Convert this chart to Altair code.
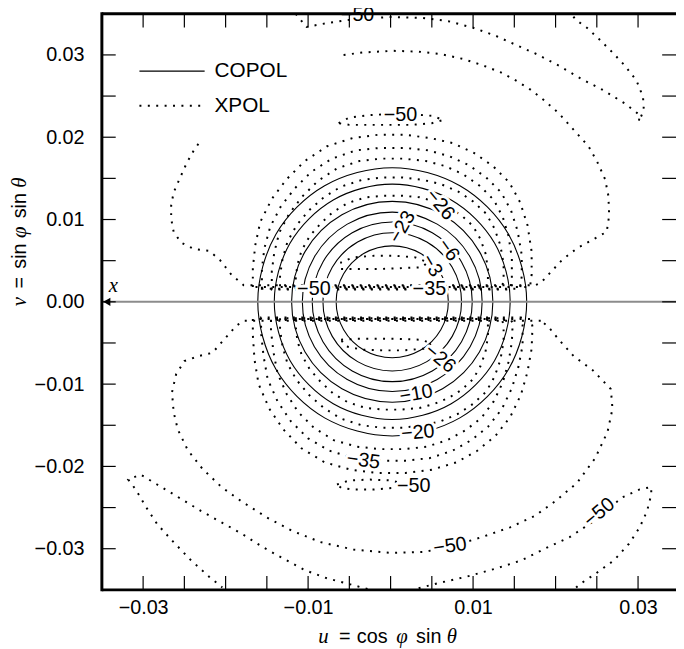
import altair as alt
import pandas as pd

# ---------------- axis values ----------------
x_label_values = [-0.03, -0.01, 0.01, 0.03]
y_label_values = [-0.03, -0.02, -0.01, 0.0, 0.01, 0.02, 0.03]
tick_values = [-0.03, -0.025, -0.02, -0.015, -0.01, -0.005, 0.0,
               0.005, 0.01, 0.015, 0.02, 0.025, 0.03]

# ---------------- COPOL contours (solid, closed) ----------------
copol_1 = [(0.0165, 0), (0.0143, 0.0082), (0.0084, 0.0141), (0.0002, 0.0163), (-0.0080, 0.0141), (-0.0139, 0.0082),
           (-0.0161, 0), (-0.0139, -0.0082), (-0.0080, -0.0141), (0.0002, -0.0163), (0.0084, -0.0141), (0.0143, -0.0082)]
copol_2 = [(0.0145, 0), (0.0126, 0.00715), (0.00735, 0.01238), (0.0002, 0.0143), (-0.00695, 0.01238), (-0.01218, 0.00715),
           (-0.0141, 0), (-0.01218, -0.00715), (-0.00695, -0.01238), (0.0002, -0.0143), (0.00735, -0.01238), (0.0126, -0.00715)]
copol_3 = [(0.0124, 0), (0.01077, 0.0061), (0.0063, 0.01057), (0.0002, 0.0122), (-0.0059, 0.01057), (-0.01037, 0.0061),
           (-0.0120, 0), (-0.01037, -0.0061), (-0.0059, -0.01057), (0.0002, -0.0122), (0.0063, -0.01057), (0.01077, -0.0061)]
copol_4 = [(0.0111, 0), (0.00964, 0.00545), (0.00565, 0.00944), (0.0002, 0.0109), (-0.00525, 0.00944), (-0.00924, 0.00545),
           (-0.0107, 0), (-0.00924, -0.00545), (-0.00525, -0.00944), (0.0002, -0.0109), (0.00565, -0.00944), (0.00964, -0.00545)]
copol_5 = [(0.0099, 0), (0.0086, 0.00485), (0.00505, 0.0084), (0.0002, 0.0097), (-0.00465, 0.0084), (-0.0082, 0.00485),
           (-0.0095, 0), (-0.0082, -0.00485), (-0.00465, -0.0084), (0.0002, -0.0097), (0.00505, -0.0084), (0.0086, -0.00485)]
copol_6 = [(0.0086, 0), (0.00747, 0.0042), (0.0044, 0.00727), (0.0002, 0.0084), (-0.0040, 0.00727), (-0.00707, 0.0042),
           (-0.0082, 0), (-0.00707, -0.0042), (-0.0040, -0.00727), (0.0002, -0.0084), (0.0044, -0.00727), (0.00747, -0.0042)]
copol_7 = [(0.0070, 0), (0.00609, 0.0034), (0.0036, 0.00589), (0.0002, 0.0068), (-0.0032, 0.00589), (-0.00569, 0.0034),
           (-0.0066, 0), (-0.00569, -0.0034), (-0.0032, -0.00589), (0.0002, -0.0068), (0.0036, -0.00589), (0.00609, -0.0034)]

# ---------------- XPOL contours (dotted) ----------------
# open curves
xpol_top_lobe = [(-0.0115, 0.0350), (-0.0102, 0.0334), (-0.0086, 0.0337), (-0.0075, 0.0339), (-0.0040, 0.0344),
                 (0.0000, 0.0346), (0.0039, 0.0345), (0.0070, 0.0341), (0.0100, 0.0333), (0.0128, 0.0323),
                 (0.0150, 0.0313), (0.0177, 0.0301), (0.0204, 0.0287), (0.0231, 0.0271), (0.0258, 0.0257),
                 (0.0284, 0.0241), (0.0302, 0.0227), (0.0301, 0.0219), (0.0307, 0.0233), (0.0306, 0.0249),
                 (0.0298, 0.0269), (0.0284, 0.0287), (0.0269, 0.0303), (0.0253, 0.0319), (0.0238, 0.0333),
                 (0.0224, 0.0343), (0.0220, 0.0349)]
xpol_upper_big = [(-0.0057, 0.0300), (-0.0033, 0.0303), (0.0003, 0.0305), (0.0034, 0.0304), (0.0061, 0.0301),
                  (0.0088, 0.0295), (0.0110, 0.0288), (0.0133, 0.0279), (0.0150, 0.0270), (0.0168, 0.0259),
                  (0.0186, 0.0245), (0.0204, 0.0229), (0.0222, 0.0209), (0.0240, 0.0189), (0.0251, 0.0169),
                  (0.0260, 0.0149), (0.0264, 0.0129), (0.0265, 0.0105), (0.0262, 0.0085), (0.0244, 0.0075),
                  (0.0226, 0.0065), (0.0208, 0.0051), (0.0195, 0.0037), (0.0182, 0.0023), (0.0175, 0.0020),
                  (0.0100, 0.0020), (0.0000, 0.0020), (-0.0100, 0.0020), (-0.0178, 0.0020), (-0.0193, 0.0033),
                  (-0.0207, 0.0051), (-0.0220, 0.0062), (-0.0238, 0.0064), (-0.0254, 0.0072), (-0.0263, 0.0085),
                  (-0.0266, 0.0101), (-0.0266, 0.0117), (-0.0263, 0.0133), (-0.0256, 0.0149), (-0.0247, 0.0169),
                  (-0.0238, 0.0185), (-0.0230, 0.0196)]
xpol_lower_left_lobe = [(-0.0028, -0.0349), (-0.0050, -0.0343), (-0.0077, -0.0336), (-0.0104, -0.0326),
                        (-0.0130, -0.0312), (-0.0155, -0.0298), (-0.0180, -0.0282), (-0.0205, -0.0268),
                        (-0.0230, -0.0254), (-0.0258, -0.0237), (-0.0283, -0.0222), (-0.0303, -0.0210),
                        (-0.0318, -0.0216), (-0.0309, -0.0228), (-0.0296, -0.0250), (-0.0283, -0.0270),
                        (-0.0265, -0.0290), (-0.0242, -0.0314), (-0.0220, -0.0334), (-0.0204, -0.0347)]
xpol_lower_right_lobe = [(0.0034, -0.0348), (0.0057, -0.0342), (0.0092, -0.0334), (0.0128, -0.0324),
                         (0.0159, -0.0314), (0.0191, -0.0298), (0.0217, -0.0286), (0.0253, -0.0262),
                         (0.0280, -0.0238), (0.0302, -0.0228), (0.0316, -0.0225), (0.0316, -0.0234),
                         (0.0311, -0.0254), (0.0302, -0.0274), (0.0289, -0.0294), (0.0271, -0.0314),
                         (0.0249, -0.0330), (0.0231, -0.0342), (0.0224, -0.0348)]

# closed curves
xpol_lower_big = [(0.0182, -0.0023), (0.0100, -0.0023), (0.0000, -0.0023), (-0.0100, -0.0023), (-0.0178, -0.0023),
                  (-0.0187, -0.0029), (-0.0202, -0.0046), (-0.0216, -0.0062), (-0.0233, -0.0066), (-0.0250, -0.0072),
                  (-0.0260, -0.0088), (-0.0265, -0.0110), (-0.0263, -0.0134), (-0.0258, -0.0155), (-0.0246, -0.0180),
                  (-0.0228, -0.0203), (-0.0205, -0.0225), (-0.0180, -0.0243), (-0.0150, -0.0262), (-0.0120, -0.0278),
                  (-0.0085, -0.0292), (-0.0045, -0.0301), (0.0000, -0.0305), (0.0040, -0.0304), (0.0075, -0.0297),
                  (0.0110, -0.0286), (0.0145, -0.0274), (0.0175, -0.0260), (0.0200, -0.0242), (0.0226, -0.0220),
                  (0.0248, -0.0190), (0.0263, -0.0158), (0.0269, -0.0130), (0.0267, -0.0106), (0.0245, -0.0083),
                  (0.0222, -0.0066), (0.0204, -0.0046), (0.0191, -0.0030)]
xpol_upper_small = [(-0.0063, 0.0217), (-0.0050, 0.0224), (-0.0025, 0.0227), (0.0000, 0.0228), (0.0025, 0.0228),
                    (0.0050, 0.0226), (0.0064, 0.0221), (0.0050, 0.0217), (0.0025, 0.0215), (0.0000, 0.0215),
                    (-0.0025, 0.0215), (-0.0050, 0.0215)]
xpol_lower_small = [(-0.0065, -0.0222), (-0.0050, -0.0217), (-0.0025, -0.0216), (0.0000, -0.0217), (0.0012, -0.0220),
                    (0.0005, -0.0226), (-0.0020, -0.0228), (-0.0045, -0.0228), (-0.0060, -0.0226)]
xpol_upper_inner = [(-0.0060, 0.0040), (-0.0035, 0.0040), (-0.0010, 0.0040), (0.0015, 0.0041), (0.0038, 0.0042),
                    (0.0045, 0.0048), (0.0030, 0.0054), (0.0005, 0.0056), (-0.0020, 0.0056), (-0.0045, 0.0054),
                    (-0.0060, 0.0048)]
xpol_lower_inner = [(-0.0060, -0.0046), (-0.0040, -0.0045), (-0.0015, -0.0045), (0.0010, -0.0045), (0.0035, -0.0046),
                    (0.0050, -0.0050), (0.0040, -0.0057), (0.0015, -0.0059), (-0.0010, -0.0059), (-0.0035, -0.0058),
                    (-0.0055, -0.0054)]
xpol_u1 = [(-0.0167, 0.0018), (-0.0167, 0.0041), (-0.0164, 0.0069), (-0.0158, 0.0097), (-0.0144, 0.0125),
           (-0.0126, 0.0149), (-0.0104, 0.0171), (-0.0077, 0.0189), (-0.0046, 0.0199), (-0.0015, 0.0203),
           (0.0017, 0.0203), (0.0048, 0.0199), (0.0075, 0.0193), (0.0101, 0.0181), (0.0124, 0.0165),
           (0.0144, 0.0145), (0.0157, 0.0121), (0.0166, 0.0093), (0.0171, 0.0061), (0.0171, 0.0033), (0.0169, 0.0018)]
xpol_u2 = [(-0.0156, 0.0016), (-0.0156, 0.0040), (-0.0153, 0.0065), (-0.0146, 0.0091), (-0.0133, 0.0116),
           (-0.0116, 0.0138), (-0.0096, 0.0158), (-0.0071, 0.0174), (-0.0042, 0.0184), (-0.0013, 0.0187),
           (0.0017, 0.0187), (0.0046, 0.0184), (0.0071, 0.0177), (0.0095, 0.0166), (0.0116, 0.0151),
           (0.0134, 0.0133), (0.0146, 0.0111), (0.0154, 0.0086), (0.0159, 0.0057), (0.0159, 0.0031), (0.0157, 0.0016)]
xpol_u3 = [(-0.0144, 0.0015), (-0.0144, 0.0037), (-0.0141, 0.0060), (-0.0135, 0.0084), (-0.0123, 0.0107),
           (-0.0107, 0.0128), (-0.0088, 0.0147), (-0.0065, 0.0162), (-0.0038, 0.0171), (-0.0011, 0.0174),
           (0.0016, 0.0174), (0.0043, 0.0171), (0.0066, 0.0165), (0.0088, 0.0155), (0.0108, 0.0141),
           (0.0125, 0.0124), (0.0136, 0.0103), (0.0143, 0.0080), (0.0147, 0.0053), (0.0147, 0.0029), (0.0145, 0.0015)]
xpol_u4 = [(-0.0134, 0.0019), (-0.0134, 0.0032), (-0.0131, 0.0052), (-0.0125, 0.0073), (-0.0114, 0.0093),
           (-0.0099, 0.0111), (-0.0081, 0.0127), (-0.0060, 0.0140), (-0.0035, 0.0148), (-0.0010, 0.0151),
           (0.0015, 0.0151), (0.0040, 0.0148), (0.0061, 0.0143), (0.0082, 0.0134), (0.0100, 0.0122),
           (0.0116, 0.0107), (0.0126, 0.0089), (0.0133, 0.0069), (0.0137, 0.0046), (0.0137, 0.0025), (0.0135, 0.0019)]
xpol_u5 = [(-0.0115, 0.0017), (-0.0115, 0.0028), (-0.0113, 0.0045), (-0.0108, 0.0062), (-0.0098, 0.0080),
           (-0.0085, 0.0095), (-0.0070, 0.0109), (-0.0052, 0.0120), (-0.0030, 0.0127), (-0.0008, 0.0129),
           (0.0013, 0.0129), (0.0035, 0.0127), (0.0053, 0.0122), (0.0070, 0.0115), (0.0086, 0.0105),
           (0.0100, 0.0092), (0.0109, 0.0076), (0.0115, 0.0059), (0.0118, 0.0040), (0.0118, 0.0022), (0.0116, 0.0017)]
xpol_l1 = [(-0.0167, -0.0021), (-0.0167, -0.0040), (-0.0165, -0.0070), (-0.0160, -0.0100), (-0.0147, -0.0130),
           (-0.0130, -0.0155), (-0.0108, -0.0178), (-0.0080, -0.0195), (-0.0048, -0.0204), (-0.0015, -0.0208),
           (0.0018, -0.0208), (0.0050, -0.0204), (0.0080, -0.0195), (0.0105, -0.0181), (0.0127, -0.0163),
           (0.0145, -0.0140), (0.0158, -0.0113), (0.0166, -0.0085), (0.0171, -0.0057), (0.0172, -0.0030), (0.0170, -0.0021)]
xpol_l2 = [(-0.0157, -0.0019), (-0.0157, -0.0038), (-0.0154, -0.0066), (-0.0149, -0.0094), (-0.0137, -0.0121),
           (-0.0121, -0.0145), (-0.0100, -0.0166), (-0.0074, -0.0181), (-0.0044, -0.0190), (-0.0013, -0.0193),
           (0.0018, -0.0193), (0.0047, -0.0190), (0.0075, -0.0181), (0.0098, -0.0168), (0.0118, -0.0152),
           (0.0135, -0.0130), (0.0147, -0.0105), (0.0155, -0.0079), (0.0160, -0.0053), (0.0160, -0.0028), (0.0158, -0.0019)]
xpol_l3 = [(-0.0145, -0.0022), (-0.0145, -0.0035), (-0.0142, -0.0061), (-0.0137, -0.0087), (-0.0126, -0.0112),
           (-0.0112, -0.0134), (-0.0093, -0.0153), (-0.0069, -0.0168), (-0.0041, -0.0176), (-0.0012, -0.0179),
           (0.0017, -0.0179), (0.0044, -0.0176), (0.0069, -0.0168), (0.0091, -0.0156), (0.0110, -0.0141),
           (0.0125, -0.0121), (0.0136, -0.0098), (0.0143, -0.0073), (0.0147, -0.0049), (0.0148, -0.0026), (0.0146, -0.0022)]
xpol_l4 = [(-0.0134, -0.0020), (-0.0134, -0.0034), (-0.0131, -0.0054), (-0.0125, -0.0075), (-0.0114, -0.0095),
           (-0.0099, -0.0113), (-0.0081, -0.0129), (-0.0060, -0.0142), (-0.0035, -0.0150), (-0.0010, -0.0153),
           (0.0015, -0.0153), (0.0040, -0.0150), (0.0061, -0.0145), (0.0082, -0.0136), (0.0100, -0.0124),
           (0.0116, -0.0109), (0.0126, -0.0091), (0.0133, -0.0071), (0.0137, -0.0048), (0.0137, -0.0030), (0.0135, -0.0020)]
xpol_l5 = [(-0.0115, -0.0021), (-0.0115, -0.0030), (-0.0113, -0.0047), (-0.0108, -0.0064), (-0.0098, -0.0082),
           (-0.0085, -0.0097), (-0.0070, -0.0111), (-0.0052, -0.0122), (-0.0030, -0.0129), (-0.0008, -0.0131),
           (0.0013, -0.0131), (0.0035, -0.0129), (0.0053, -0.0124), (0.0070, -0.0117), (0.0086, -0.0107),
           (0.0100, -0.0094), (0.0109, -0.0078), (0.0115, -0.0061), (0.0118, -0.0042), (0.0118, -0.0027), (0.0116, -0.0021)]

# ---------------- contour labels ----------------
label_text = ["−26", "−23", "−6", "−3", "−35", "−50", "−26", "−10", "−20", "−35", "−50", "−50", "−50", "−50", "−50"]
label_u = [0.0060, 0.0014, 0.0070, 0.0050, 0.0047, -0.0093, 0.0060, 0.0031, 0.0033, -0.0033, 0.0028, 0.0072, 0.0253, 0.0012, -0.0040]
label_v = [0.0118, 0.0091, 0.0063, 0.0044, 0.0016, 0.0016, -0.0069, -0.0112, -0.0159, -0.0193, -0.0224, -0.0297, -0.0256, 0.0227, 0.0349]
label_angle = [50, 300, 55, 60, 0, 0, 40, 350, 355, 8, 0, 352, 320, 0, 0]


def to_frame(contours):
    rows = []
    for name, pts in contours.items():
        for i, (u, v) in enumerate(pts):
            rows.append({"cid": name, "i": i, "u": u, "v": v})
    return pd.DataFrame(rows)


copol_df = to_frame({"c1": copol_1, "c2": copol_2, "c3": copol_3, "c4": copol_4,
                     "c5": copol_5, "c6": copol_6, "c7": copol_7})
xpol_open_df = to_frame({"top": xpol_top_lobe, "ubig": xpol_upper_big,
                         "ll": xpol_lower_left_lobe, "lr": xpol_lower_right_lobe})
xpol_closed_df = to_frame({"lbig": xpol_lower_big, "us": xpol_upper_small, "ls": xpol_lower_small,
                           "ui": xpol_upper_inner, "li": xpol_lower_inner,
                           "u1": xpol_u1, "u2": xpol_u2, "u3": xpol_u3, "u4": xpol_u4, "u5": xpol_u5,
                           "l1": xpol_l1, "l2": xpol_l2, "l3": xpol_l3, "l4": xpol_l4, "l5": xpol_l5})
labels_df = pd.DataFrame({"t": label_text, "u": label_u, "v": label_v, "a": label_angle})
ticks_df = pd.DataFrame({"t": tick_values})
one = pd.DataFrame({"k": [0]})

W, H = 581, 583
SANS = "Liberation Sans"
SERIF = "Liberation Serif"

xs = alt.Scale(domain=[-0.035, 0.0346], nice=False, zero=False)
ys = alt.Scale(domain=[-0.035, 0.035], nice=False, zero=False)
xaxis = alt.Axis(values=x_label_values, format=".2f", ticks=False, domain=False, grid=False,
                 labelFont=SANS, labelFontSize=20, labelColor="black", labelPadding=8,
                 labelFlush=False, title=None)
yaxis = alt.Axis(values=y_label_values, format=".2f", ticks=False, domain=False, grid=False,
                 labelFont=SANS, labelFontSize=20, labelColor="black", labelPadding=18,
                 labelFlush=False, title=None)
X = alt.X("u:Q", scale=xs, axis=xaxis)
Y = alt.Y("v:Q", scale=ys, axis=yaxis)

DOT = [2, 6.5]

copol = alt.Chart(copol_df).mark_line(interpolate="cardinal-closed", color="black",
                                      strokeWidth=1.1, clip=True).encode(
    x=X, y=Y, detail="cid:N", order="i:Q")
xpol_closed = alt.Chart(xpol_closed_df).mark_line(interpolate="linear-closed", color="black",
                                                  strokeWidth=2, strokeDash=DOT, clip=True).encode(
    x=X, y=Y, detail="cid:N", order="i:Q")
xpol_open = alt.Chart(xpol_open_df).mark_line(interpolate="linear", color="black",
                                              strokeWidth=2, strokeDash=DOT, clip=True).encode(
    x=X, y=Y, detail="cid:N", order="i:Q")

halo = alt.Chart(labels_df).mark_text(font=SANS, fontSize=20, fill="white", stroke="white",
                                      strokeWidth=6, strokeJoin="round",
                                      align="center", baseline="middle").encode(
    x=X, y=Y, text="t:N", angle=alt.Angle("a:Q", scale=None))
labels = alt.Chart(labels_df).mark_text(font=SANS, fontSize=20, color="black",
                                        align="center", baseline="middle").encode(
    x=X, y=Y, text="t:N", angle=alt.Angle("a:Q", scale=None))

# horizontal x-direction line with arrow
axis_line = alt.Chart(one).mark_rule(color="#8c8c8c", strokeWidth=2).encode(
    y=alt.Y(datum=0.0, scale=ys, axis=yaxis), x=alt.value(0), x2=alt.value(W))
arrow = alt.Chart(one).mark_point(shape="triangle-left", filled=True, size=70, color="black",
                                  opacity=1).encode(
    x=alt.X(datum=-0.0344, scale=xs, axis=xaxis), y=alt.Y(datum=0.0, scale=ys, axis=yaxis))
x_mark = alt.Chart(one).mark_text(text="x", font=SERIF, fontStyle="italic", fontSize=21,
                                  align="center", baseline="middle", color="black").encode(
    x=alt.X(datum=-0.0336, scale=xs, axis=xaxis), y=alt.Y(datum=0.0019, scale=ys, axis=yaxis))

# inward ticks on all sides
TL = 14
tick_x_bottom = alt.Chart(ticks_df).mark_rule(color="black", strokeWidth=1.2).encode(
    x=alt.X("t:Q", scale=xs, axis=xaxis), y=alt.value(H), y2=alt.value(H - TL))
tick_x_top = alt.Chart(ticks_df).mark_rule(color="black", strokeWidth=1.2).encode(
    x=alt.X("t:Q", scale=xs, axis=xaxis), y=alt.value(0), y2=alt.value(TL))
tick_y_left = alt.Chart(ticks_df).mark_rule(color="black", strokeWidth=1.2).encode(
    y=alt.Y("t:Q", scale=ys, axis=yaxis), x=alt.value(0), x2=alt.value(TL))
tick_y_right = alt.Chart(ticks_df).mark_rule(color="black", strokeWidth=1.2).encode(
    y=alt.Y("t:Q", scale=ys, axis=yaxis), x=alt.value(W), x2=alt.value(W - TL))

# frame (left, top, bottom; right edge is outside the picture)
frame_left = alt.Chart(one).mark_rule(color="black", strokeWidth=3).encode(
    x=alt.value(0), y=alt.value(-1.5), y2=alt.value(H + 1.5))
frame_top = alt.Chart(one).mark_rule(color="black", strokeWidth=3).encode(
    y=alt.value(0), x=alt.value(0), x2=alt.value(W))
frame_bottom = alt.Chart(one).mark_rule(color="black", strokeWidth=3).encode(
    y=alt.value(H), x=alt.value(0), x2=alt.value(W))

# legend
leg_solid = alt.Chart(one).mark_rule(color="black", strokeWidth=1.4).encode(
    x=alt.value(38), x2=alt.value(104), y=alt.value(58))
leg_dot = alt.Chart(one).mark_rule(color="black", strokeWidth=2, strokeDash=DOT).encode(
    x=alt.value(38), x2=alt.value(104), y=alt.value(93))
leg_t1 = alt.Chart(one).mark_text(text="COPOL", font=SANS, fontSize=21, align="left",
                                  baseline="middle", color="black").encode(
    x=alt.value(114), y=alt.value(58))
leg_t2 = alt.Chart(one).mark_text(text="XPOL", font=SANS, fontSize=21, align="left",
                                  baseline="middle", color="black").encode(
    x=alt.value(114), y=alt.value(93))


def piece(txt, x, y, italic, angle=0):
    return alt.Chart(one).mark_text(
        text=txt, font=SERIF if italic else SANS, fontSize=21 if italic else 20,
        fontStyle="italic" if italic else "normal", align="left", baseline="middle",
        angle=angle, color="black").encode(x=alt.value(x), y=alt.value(y))


TY = 631
x_title = [piece("u", 219, TY, True), piece("=", 240, TY, False), piece("cos", 258, TY, False),
           piece("φ", 298, TY, True), piece("sin", 318, TY, False), piece("θ", 349, TY, True)]
TX = -83
y_title = [piece("v", TX, 296, True, 270), piece("=", TX, 278, False, 270), piece("sin", TX, 258, False, 270),
           piece("φ", TX, 227, True, 270), piece("sin", TX, 207, False, 270), piece("θ", TX, 176, True, 270)]

chart = alt.layer(
    copol, xpol_closed, xpol_open, axis_line, arrow, x_mark, halo, labels,
    tick_x_bottom, tick_x_top, tick_y_left, tick_y_right,
    leg_solid, leg_dot, leg_t1, leg_t2,
    *x_title, *y_title,
    frame_left, frame_top, frame_bottom,
).properties(
    width=W, height=H,
    autosize=alt.AutoSizeParams(type="none"),
    padding={"left": 95, "top": 2, "right": 0, "bottom": 56},
    background="white",
).configure_view(strokeWidth=0)

chart.save("out.html", embed_options={"renderer": "svg", "actions": False})
